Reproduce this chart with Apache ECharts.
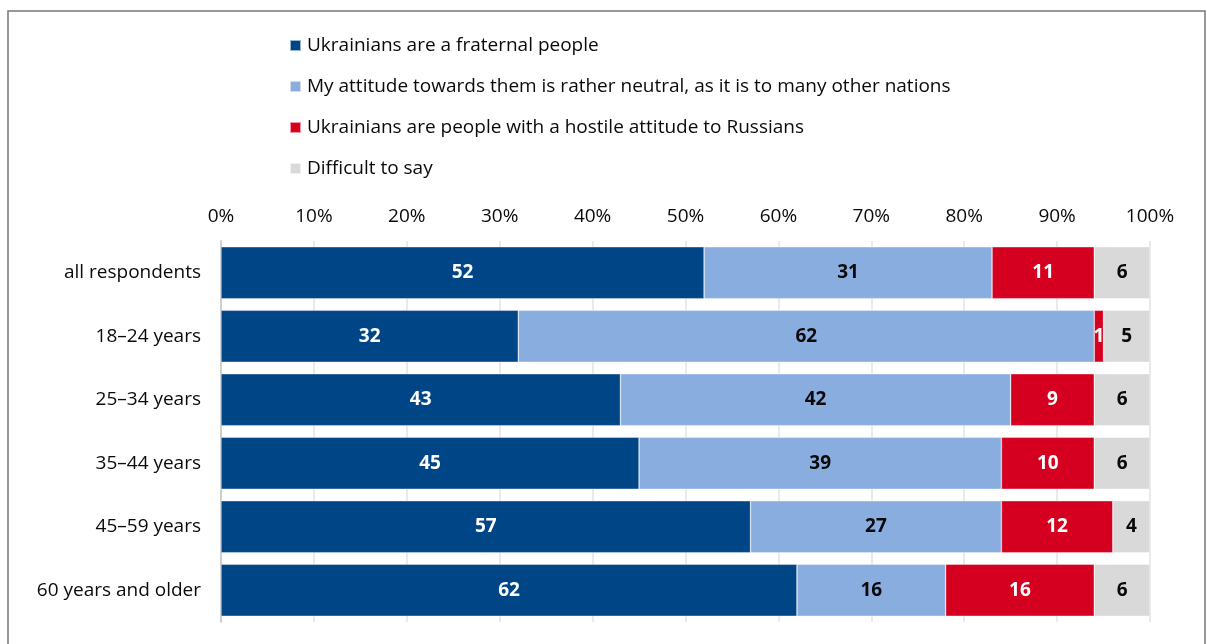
<!DOCTYPE html>
<html>
<head>
<meta charset="utf-8">
<script src="https://cdn.jsdelivr.net/npm/echarts@6/dist/echarts.min.js"></script>
<style>
  html, body { margin: 0; padding: 0; background: #fff; }
  #chart { width: 1207px; height: 644px; }
</style>
</head>
<body>
<div id="chart"></div>
<script>
// Attitudes towards Ukrainians by age group, percent of respondents
const categories = ['all respondents', '18–24 years', '25–34 years', '35–44 years', '45–59 years', '60 years and older'];
const seriesNames = [
  'Ukrainians are a fraternal people',
  'My attitude towards them is rather neutral, as it is to many other nations',
  'Ukrainians are people with a hostile attitude to Russians',
  'Difficult to say'
];
const fraternal = [52, 32, 43, 45, 57, 62];
const neutral   = [31, 62, 42, 39, 27, 16];
const hostile   = [11, 1, 9, 10, 12, 16];
const difficult = [6, 5, 6, 6, 4, 6];

const values = [fraternal, neutral, hostile, difficult];
const colors = ['#004687', '#8aade0', '#d5001f', '#d9d9d9'];
const labelColors = ['#ffffff', '#0a0a0a', '#ffffff', '#0a0a0a'];
const FONT = '"Open Sans", "Noto Sans", sans-serif';

const chart = echarts.init(document.getElementById('chart'), null, { renderer: 'canvas' });

const series = seriesNames.map((name, i) => ({
  name: name,
  type: 'bar',
  stack: 'total',
  barWidth: 52,
  data: values[i],
  itemStyle: { color: colors[i], borderColor: 'rgba(255,255,255,0.6)', borderWidth: 0.6 },
  label: {
    show: true,
    position: 'inside',
    color: labelColors[i],
    fontFamily: FONT,
    fontWeight: 'bold',
    fontSize: 19
  }
}));

chart.setOption({
  animation: false,
  backgroundColor: '#ffffff',
  graphic: [{
    type: 'polyline',
    shape: { points: [[8, 644], [8, 11], [1205, 11], [1205, 644]] },
    style: { stroke: '#777777', lineWidth: 1.5, fill: null }
  }],
  legend: {
    orient: 'vertical',
    left: 284,
    top: 28,
    itemWidth: 11,
    itemHeight: 11,
    itemGap: 16,
    icon: 'rect',
    textStyle: { fontFamily: FONT, fontSize: 19, color: '#0a0a0a', lineHeight: 25, padding: [0, 0, 0, 1] },
    data: seriesNames
  },
  grid: { left: 221, right: 57, top: 241, bottom: 22, containLabel: false },
  xAxis: {
    type: 'value',
    position: 'top',
    min: 0,
    max: 100,
    interval: 10,
    axisLabel: { formatter: '{value}%', fontFamily: FONT, fontSize: 19, color: '#0a0a0a', margin: 15 },
    axisLine: { show: false },
    axisTick: { show: false },
    splitLine: { show: true, lineStyle: { color: '#e3e3e3', width: 1.5 } }
  },
  yAxis: {
    type: 'category',
    inverse: true,
    data: categories,
    axisLabel: { fontFamily: FONT, fontSize: 19, color: '#0a0a0a', margin: 20 },
    axisLine: { show: true, lineStyle: { color: '#cfcfcf', width: 2 } },
    axisTick: { show: false }
  },
  series: series
});
</script>
</body>
</html>
